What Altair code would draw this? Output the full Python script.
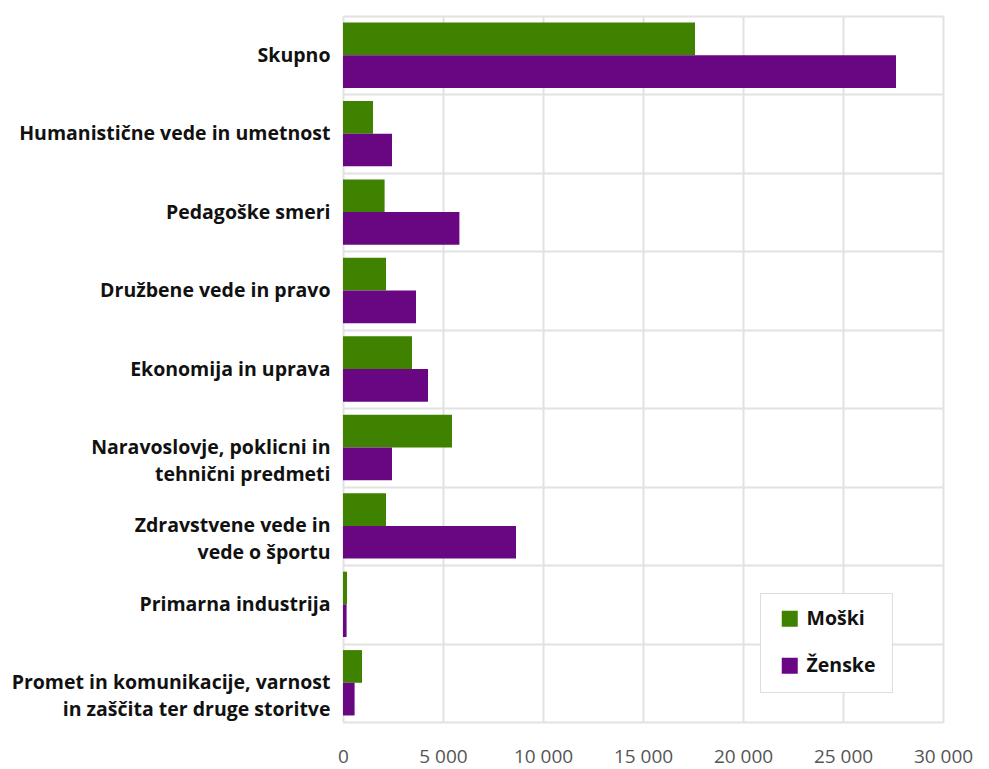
import altair as alt
import pandas as pd

# Categories (a "|" marks a line break in the axis label)
categories = [
    "Skupno",
    "Humanistične vede in umetnost",
    "Pedagoške smeri",
    "Družbene vede in pravo",
    "Ekonomija in uprava",
    "Naravoslovje, poklicni in|tehnični predmeti",
    "Zdravstvene vede in|vede o športu",
    "Primarna industrija",
    "Promet in komunikacije, varnost|in zaščita ter druge storitve",
]
series = ["Moški", "Ženske"]
moski = [17600, 1500, 2080, 2150, 3450, 5450, 2150, 200, 950]
zenske = [27650, 2450, 5820, 3650, 4250, 2450, 8650, 180, 580]
x_ticks = [0, 5000, 10000, 15000, 20000, 25000, 30000]

colors = ["#3f8200", "#690783"]

rows = []
for cat, m, z in zip(categories, moski, zenske):
    rows.append({"kategorija": cat, "spol": series[0], "vrednost": m})
    rows.append({"kategorija": cat, "spol": series[1], "vrednost": z})
df = pd.DataFrame(rows)

FONT = "Open Sans"

chart = (
    alt.Chart(df)
    .mark_bar()
    .encode(
        y=alt.Y(
            "kategorija:N",
            sort=categories,
            scale=alt.Scale(paddingInner=0, paddingOuter=0),
            axis=alt.Axis(
                title=None,
                grid=True,
                tickBand="extent",
                gridColor="#e2e2e2",
                gridWidth=2,
                ticks=False,
                domain=False,
                labelExpr="split(datum.label, '|')",
                labelFont=FONT,
                labelFontSize=19.5,
                labelFontWeight="bold",
                labelColor="#111111",
                labelLineHeight=27,
                labelPadding=13,
                labelLimit=0,
                minExtent=338,
                maxExtent=338,
            ),
        ),
        yOffset=alt.YOffset(
            "spol:N",
            sort=series,
            scale=alt.Scale(paddingInner=0, paddingOuter=0.2),
        ),
        x=alt.X(
            "vrednost:Q",
            scale=alt.Scale(domain=[0, 30000], nice=False),
            axis=alt.Axis(
                title=None,
                values=x_ticks,
                grid=True,
                gridColor="#e2e2e2",
                gridWidth=2,
                ticks=False,
                domain=False,
                labelFlush=False,
                labelExpr="replace(format(datum.value, ','), ',', ' ')",
                labelFont=FONT,
                labelFontSize=19,
                labelColor="#555555",
                labelPadding=25,
            ),
        ),
        color=alt.Color(
            "spol:N",
            scale=alt.Scale(domain=series, range=colors),
            legend=alt.Legend(
                title=None,
                orient="none",
                legendX=417,
                legendY=577,
                direction="vertical",
                symbolType="square",
                symbolSize=256,
                symbolStrokeWidth=0,
                symbolOffset=4,
                labelFont=FONT,
                labelFontSize=19.5,
                labelFontWeight="bold",
                labelColor="#111111",
                labelOffset=7,
                rowPadding=26,
                padding=16,
                fillColor="white",
                strokeColor="#dddddd",
            ),
        ),
    )
    .properties(
        width=600,
        height=706,
        padding={"left": 5, "top": 6, "right": 5, "bottom": 5},
    )
    .configure_view(stroke="#e2e2e2", strokeWidth=2)
    .configure(background="white")
)

chart.save("out.html", embed_options={"renderer": "svg", "actions": False})
